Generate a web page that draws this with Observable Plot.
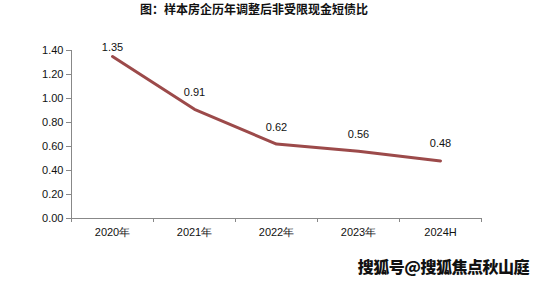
<!DOCTYPE html>
<html>
<head>
<meta charset="utf-8">
<script src="https://cdn.jsdelivr.net/npm/d3@7"></script>
<script src="https://cdn.jsdelivr.net/npm/@observablehq/plot@0.6"></script>
<style>
  html, body { margin: 0; padding: 0; background: #fff; }
  #wrap { position: relative; width: 539px; height: 284px; overflow: hidden; }
  #title { width: 508px; height: 32px; line-height: 32px; text-align: center; font: bold 12px "Noto Sans CJK SC", sans-serif; color: #111; }
  #wm { position: absolute; top: 254px; right: 10px; font: 900 16px "Noto Sans CJK SC", sans-serif; color: #111; letter-spacing: -0.5px; text-shadow: 0 0 1px #fff; }
</style>
</head>
<body>
<div id="wrap">
  <div id="title">图：样本房企历年调整后非受限现金短债比</div>
  <div id="chart"></div>
  <div id="wm">搜狐号@搜狐焦点秋山庭</div>
</div>
<script>
const categories = ["2020年", "2021年", "2022年", "2023年", "2024H"];
const values = [1.35, 0.91, 0.62, 0.56, 0.48];
const yTicks = [0, 0.2, 0.4, 0.6, 0.8, 1.0, 1.2, 1.4];

const data = categories.map((c, i) => ({ cat: c, i: i + 0.5, v: values[i], first: i === 0 }));
const font = "'Liberation Sans', 'DejaVu Sans', sans-serif";

const chart = Plot.plot({
  width: 539,
  height: 210,
  marginTop: 18,
  marginBottom: 24,
  marginLeft: 71,
  marginRight: 58,
  style: { fontFamily: font, fontSize: "11px", color: "#111", background: "#fff" },
  x: { domain: [0, categories.length], label: null },
  y: { domain: [0, 1.4], label: null },
  marks: [
    Plot.ruleY([0], { stroke: "#888", strokeWidth: 1 }),
    Plot.ruleX([0], { stroke: "#888", strokeWidth: 1 }),
    Plot.axisY({ ticks: yTicks, tickFormat: d => d.toFixed(2), tickSize: 5, tickPadding: 3, stroke: "#888", fill: "#111", fontSize: 11, letterSpacing: 0.5, label: null }),
    Plot.axisX({ ticks: d3.range(categories.length + 1), tickFormat: () => "", tickSize: 4, stroke: "#888", label: null }),
    Plot.axisX({ ticks: data.map(d => d.i), tickFormat: t => categories[Math.round(t - 0.5)], tickSize: 0, tickPadding: 10, fill: "#111", fontSize: 11, label: null }),
    Plot.line(data, { x: "i", y: "v", stroke: "#9c4a4a", strokeWidth: 3 }),
    Plot.text(data.filter(d => !d.first), { x: "i", y: "v", text: d => d.v.toFixed(2), dy: -17, fill: "#111", fontSize: 11, letterSpacing: 0.5 }),
    Plot.text(data.filter(d => d.first), { x: "i", y: "v", text: d => d.v.toFixed(2), dy: -9, fill: "#111", fontSize: 11, letterSpacing: 0.5 })
  ]
});
document.getElementById("chart").appendChild(chart);
</script>
</body>
</html>
